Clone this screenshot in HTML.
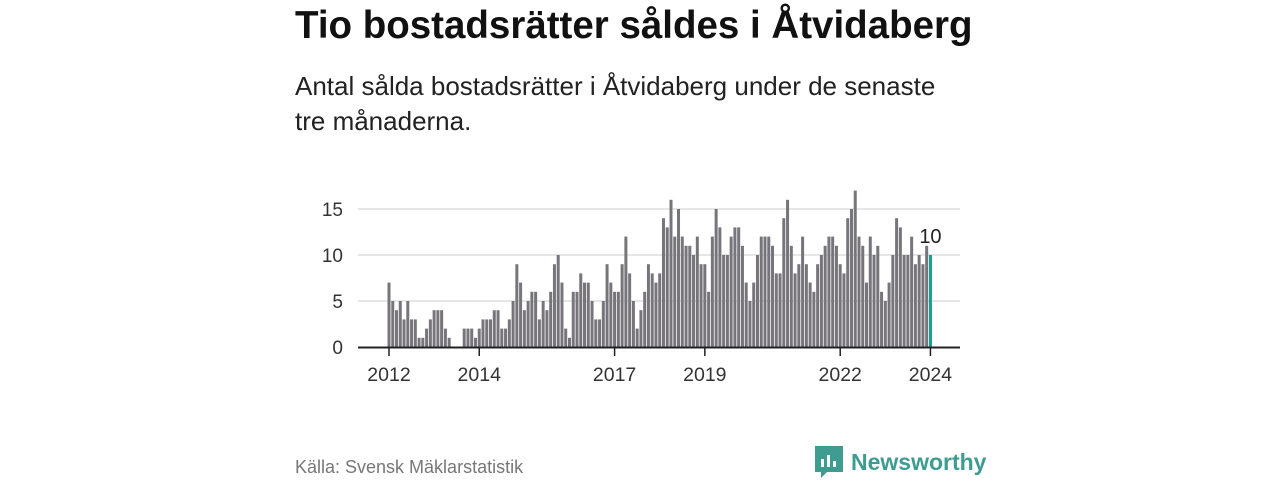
<!DOCTYPE html>
<html><head><meta charset="utf-8"><style>
body{margin:0;width:1280px;height:480px;background:#fff;font-family:"Liberation Sans",sans-serif;overflow:hidden;position:relative}
.t{position:absolute;left:295px;top:4px;font-size:38.5px;font-weight:bold;color:#111;white-space:nowrap}
.s{position:absolute;left:295px;top:69px;font-size:26px;line-height:35px;color:#222;width:670px}
.f{position:absolute;left:295px;top:457px;font-size:18px;color:#777}
.logo{position:absolute;left:815px;top:446px;display:flex;align-items:center;color:#3f9c91;font-size:23px;font-weight:bold}
</style></head><body>
<div class="t">Tio bostadsrätter såldes i Åtvidaberg</div>
<div class="s">Antal sålda bostadsrätter i Åtvidaberg under de senaste tre månaderna.</div>
<svg id="c" width="1280" height="480" style="position:absolute;left:0;top:0"></svg>
<div class="f">Källa: Svensk Mäklarstatistik</div>
<div class="logo">
<svg width="28" height="32" viewBox="0 0 28 32" style="margin-right:8px"><path d="M0 0H28V26H12L6 32V26H0Z" fill="#3f9c91"/><rect x="6" y="13" width="3" height="8" fill="#fff"/><rect x="12" y="9" width="3" height="12" fill="#fff"/><rect x="18" y="15" width="3" height="6" fill="#fff"/></svg>Newsworthy</div>
<script>
const values=[7,5,4,5,3,5,3,3,1,1,2,3,4,4,4,2,1,0,0,0,2,2,2,1,2,3,3,3,4,4,2,2,3,5,9,7,4,5,6,6,3,5,4,6,9,10,7,2,1,6,6,8,7,7,5,3,3,5,9,7,6,6,9,12,8,5,2,4,6,9,8,7,8,14,13,16,12,15,12,11,11,10,12,9,9,6,12,15,13,10,10,12,13,13,11,7,5,7,10,12,12,12,11,8,8,14,16,11,8,9,12,9,7,6,9,10,11,12,12,11,9,8,14,15,17,12,11,7,12,10,11,6,5,7,10,14,13,10,10,12,9,10,9,11,10];
const xTickIdx=[0,24,60,84,120,144];
const xTickLabels=["2012","2014","2017","2019","2022","2024"];
const yTicks=[0,5,10,15];
const svg=document.getElementById('c');const NS='http://www.w3.org/2000/svg';
const x=i=>389+i*3.76, y=v=>347-v*9.2;
function mk(t,a){const e=document.createElementNS(NS,t);for(const k in a)e.setAttribute(k,a[k]);svg.appendChild(e);return e;}
yTicks.forEach(v=>{
 if(v>0){const g=mk('line',{x1:358,x2:960,y1:y(v),y2:y(v),stroke:'#ddd','stroke-width':1.5});
 
 }
 const t=mk('text',{x:343,y:y(v)+7,'text-anchor':'end','font-size':19,fill:'#333','font-family':'Liberation Sans'});t.textContent=v;
 
 
});
values.forEach((v,i)=>{const last=i===values.length-1;
 const r=mk('rect',{x:x(i)-1.5,y:y(v),width:3,height:v*9.2,fill:last?'#1a9c8f':'#77757b'});
 
 });
const ax=mk('line',{x1:358,x2:960,y1:347.5,y2:347.5,stroke:'#222','stroke-width':2});


xTickIdx.forEach((idx,k)=>{mk('line',{x1:x(idx),x2:x(idx),y1:348,y2:356,stroke:'#222','stroke-width':1.5});
 const t=mk('text',{x:x(idx),y:381,'text-anchor':'middle','font-size':19.5,fill:'#333','font-family':'Liberation Sans'});t.textContent=xTickLabels[k];
 
 });
const n=values.length-1;
const lab=mk('text',{x:x(n),y:y(values[n])-12,'text-anchor':'middle','font-size':20,fill:'#222','font-family':'Liberation Sans'});lab.textContent=values[n];


</script>
</body></html>
